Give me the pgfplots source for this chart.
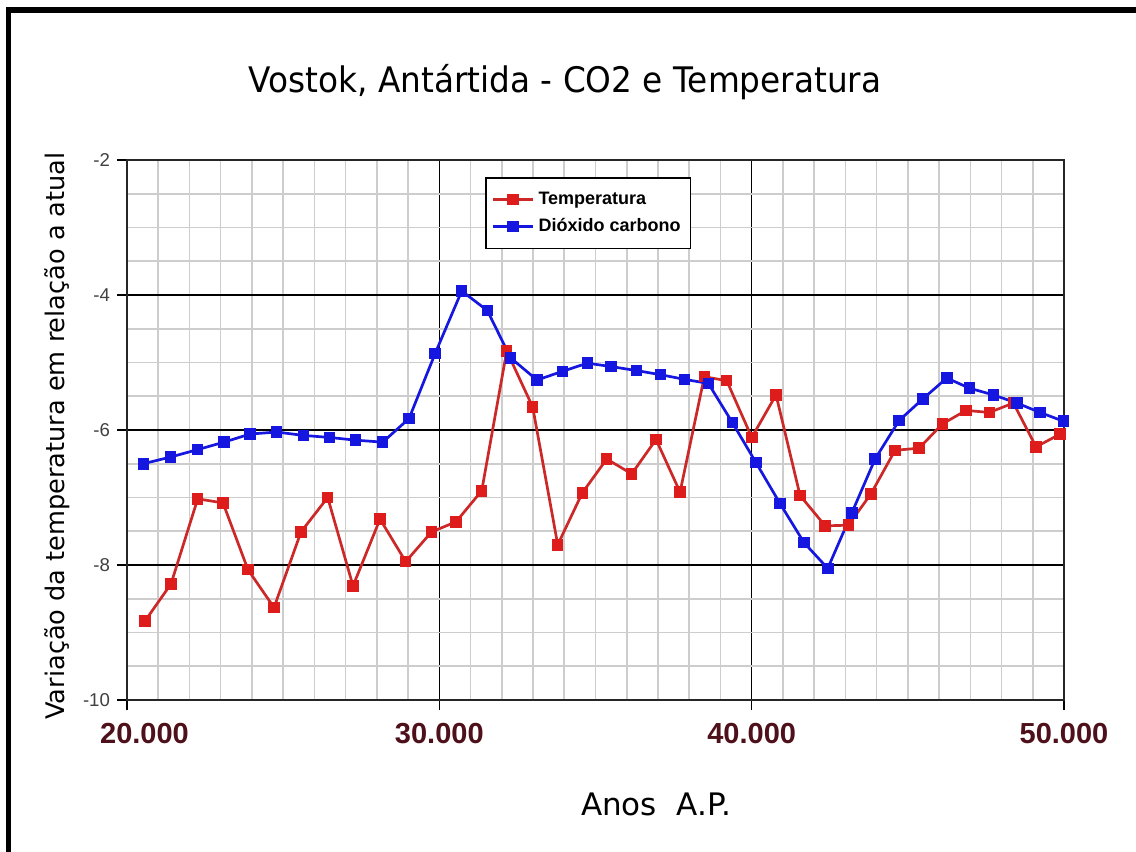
\documentclass[border=0pt]{standalone}
\usepackage{fontspec}
\setmainfont{DejaVu Sans}
\newfontfamily\arialf{Liberation Sans}
\usepackage{graphicx}
\usepackage{pgfplots}
\pgfplotsset{compat=1.18}
\definecolor{tred}{RGB}{222,28,28}
\definecolor{tline}{RGB}{205,40,40}
\definecolor{cblue}{RGB}{22,22,225}
\definecolor{xlab}{RGB}{78,16,26}
\definecolor{mgrid}{RGB}{205,205,205}
\pgfplotstableread{
x y
20576 -8.83
21409 -8.28
22264 -7.02
23074 -7.08
23874 -8.07
24707 -8.63
25571 -7.51
26426 -7.00
27237 -8.31
28101 -7.32
28924 -7.95
29750 -7.51
30535 -7.36
31357 -6.90
32158 -4.83
32990 -5.66
33791 -7.70
34579 -6.93
35360 -6.43
36160 -6.65
36939 -6.14
37707 -6.92
38485 -5.21
39202 -5.27
40003 -6.11
40781 -5.48
41549 -6.97
42354 -7.42
43096 -7.41
43814 -6.95
44592 -6.30
45360 -6.27
46106 -5.91
46865 -5.71
47611 -5.74
48380 -5.60
49106 -6.25
49875 -6.06
}\temptable
\pgfplotstableread{
x y
20522 -6.50
21399 -6.40
22264 -6.29
23106 -6.18
23938 -6.06
24793 -6.03
25645 -6.08
26478 -6.11
27310 -6.15
28188 -6.18
29030 -5.83
29862 -4.87
30717 -3.94
31537 -4.23
32280 -4.93
33128 -5.26
33945 -5.13
34739 -5.01
35498 -5.06
36320 -5.12
37076 -5.18
37855 -5.25
38613 -5.31
39382 -5.89
40134 -6.48
40909 -7.09
41678 -7.67
42436 -8.05
43205 -7.23
43951 -6.43
44719 -5.86
45478 -5.54
46247 -5.23
46971 -5.38
47739 -5.48
48488 -5.60
49234 -5.74
49981 -5.87
}\cotable
\begin{document}
\begin{tikzpicture}
\begin{scope}[x=0.5pt,y=-0.5pt,shift={(-63.5pt,350pt)}]
  \path[use as bounding box, fill=white] (0,0) rectangle (1136,852);
  \fill[black] (6,7) rectangle (1136,13);
  \fill[black] (6,7) rectangle (11,852);
\end{scope}
\begin{axis}[
  scale only axis, width=468.5pt, height=270pt,
  xmin=20000, xmax=50000, ymin=-10, ymax=-2,
  scaled x ticks=false, scaled y ticks=false,
  xtick={20000,30000,40000,50000},
  xticklabels={\hspace{17.5pt}20.000,30.000,40.000,50.000},
  minor xtick={21000,22000,...,49000},
  ytick={-10,-8,-6,-4,-2},
  minor ytick={-9.5,-9,...,-2.5},
  xtick pos=bottom, ytick pos=left,
  grid=both,
  major grid style={black, line width=0.8pt},
  minor grid style={mgrid, line width=0.8pt},
  axis line style={black!85, line width=1pt},
  tick align=outside, major tick length=5pt, minor tick length=0pt,
  tick style={black, line width=0.8pt},
  xticklabel style={font=\arialf\bfseries\fontsize{14.5}{16}\selectfont, text=xlab, yshift=-3pt},
  yticklabel style={font=\arialf\fontsize{9.3}{10}\selectfont, text=black!75},
  /pgf/number format/assume math mode=true,
  title={\scalebox{0.93}[1]{Vostok, Antártida - CO2 e Temperatura}},
  title style={at={(axis description cs:0.4675,1.148)}, anchor=center, yshift=-7pt, font=\fontsize{17.6}{19}\selectfont},
  xlabel={Anos\ \ A.P.},
  xlabel style={at={(axis description cs:0.5646,-0.194)}, anchor=center, font=\fontsize{15.5}{17}\selectfont},
  ylabel={Variação da temperatura em relação a atual},
  ylabel style={at={(axis description cs:-0.0747,0.489)}, anchor=center, rotate=0, font=\fontsize{12.8}{14}\selectfont},
  legend style={at={(0.382,0.9685)}, anchor=north west, draw=black, line width=0.9pt,
    font=\arialf\bfseries\fontsize{9}{10}\selectfont, inner xsep=3pt, inner ysep=5pt,
    row sep=1.5pt, cells={anchor=west}},
  legend image code/.code={\draw[mark repeat=2,mark phase=2,#1] plot coordinates {(0pt,0pt) (10pt,0pt) (20pt,0pt)};},
]
\addplot[color=tline, line width=1.35pt, mark=square*, mark size=2.2pt, mark options={solid, fill=tred, draw=tred}] table[x=x,y=y] {\temptable};
\addlegendentry{Temperatura}
\addplot[color=cblue, line width=1.35pt, mark=square*, mark size=2.2pt, mark options={solid, fill=cblue, draw=cblue}] table[x=x,y=y] {\cotable};
\addlegendentry{Dióxido carbono}
\end{axis}
\end{tikzpicture}
\end{document}
